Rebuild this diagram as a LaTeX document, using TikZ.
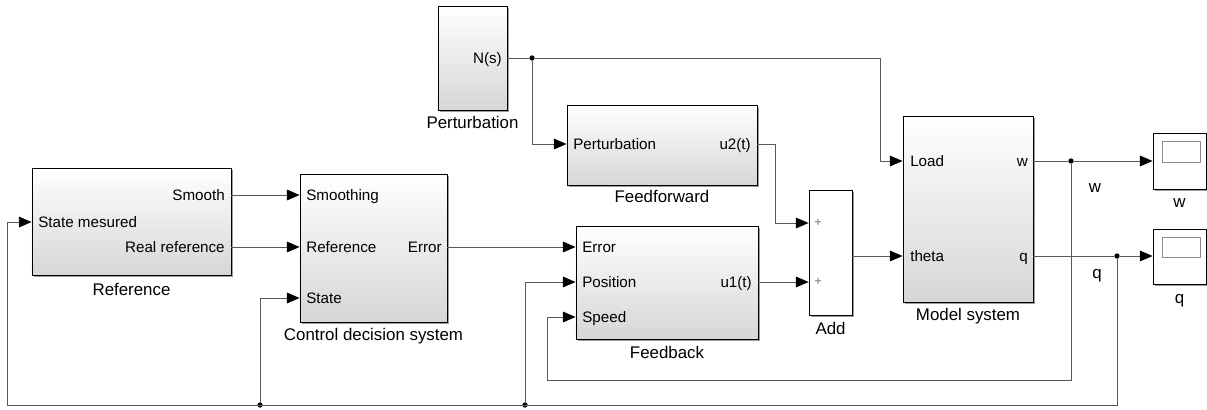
\documentclass[tikz,border=0pt]{standalone}
\usepackage{fontspec}
\setmainfont{Liberation Sans}
\usepackage{tikz}
\usetikzlibrary{arrows.meta,shadows}

\begin{document}
\begin{tikzpicture}[x=0.025cm,y=-0.025cm]
\tikzstyle{block} = [draw=black, line width=0.6pt, top color=white, bottom color=black!16, inner sep=0pt,
  drop shadow={shadow xshift=1.3pt, shadow yshift=-1.3pt, fill=black!55, opacity=.7}]
\tikzstyle{plain} = [draw=black, line width=0.6pt, fill=white, inner sep=0pt,
  drop shadow={shadow xshift=1.3pt, shadow yshift=-1.3pt, fill=black!55, opacity=.7}]
\tikzstyle{screen} = [draw=black!45, line width=0.6pt, fill=white, inner sep=0pt]
\tikzstyle{port} = [font=\fontsize{10.8}{12}\selectfont, inner sep=0pt, text height=7.8pt, text depth=0pt]
\tikzstyle{blkname} = [font=\fontsize{12}{14}\selectfont, inner sep=0pt]
\tikzstyle{plus} = [font=\fontsize{9}{10}\selectfont, text=black!55, inner sep=0pt]
\tikzstyle{wire} = [draw=black!65, line width=0.6pt]
\tikzstyle{sig} = [wire, -{Triangle[length=9pt, width=7.6pt, color=black]}]
\tikzstyle{dot} = [circle, fill=black, inner sep=0pt, minimum size=3.8pt]
\useasboundingbox (0,0) rectangle (1207,409);

% blocks
\node[block, minimum width=4.975cm, minimum height=2.675cm] (ref) at (131.5,221.5) {};
\node[block, minimum width=3.675cm, minimum height=3.7cm] (ctl) at (373.5,248) {};
\node[block, minimum width=1.725cm, minimum height=2.6cm] (pert) at (472.5,58) {};
\node[block, minimum width=4.75cm, minimum height=2cm] (ffw) at (662,145) {};
\node[block, minimum width=4.55cm, minimum height=2.825cm] (fbk) at (667,282.5) {};
\node[plain, minimum width=1.075cm, minimum height=3.125cm] (add) at (830.5,252.5) {};
\node[block, minimum width=3.25cm, minimum height=4.65cm] (mdl) at (968,209) {};
\node[plain, minimum width=1.325cm, minimum height=1.4cm] (scw) at (1179.5,161) {};
\node[plain, minimum width=1.325cm, minimum height=1.375cm] (scq) at (1179.5,256.5) {};
\node[screen, minimum width=0.95cm, minimum height=0.525cm] (scw-s) at (1181,151.5) {};
\node[screen, minimum width=0.95cm, minimum height=0.5cm] (scq-s) at (1181,247) {};

% ports
\node[port, anchor=east] (ref-o1) at (225,195) {Smooth};
\node[port, anchor=west] (ref-i1) at (38,222) {State mesured};
\node[port, anchor=east] (ref-o2) at (225,247) {Real reference};
\node[port, anchor=west] (ctl-i1) at (306,195) {Smoothing};
\node[port, anchor=west] (ctl-i2) at (306,247) {Reference};
\node[port, anchor=west] (ctl-i3) at (306,298) {State};
\node[port, anchor=east] (ctl-o1) at (442,247) {Error};
\node[port, anchor=east] (pert-o1) at (502,58) {N(s)};
\node[port, anchor=west] (ffw-i1) at (573,144) {Perturbation};
\node[port, anchor=east] (ffw-o1) at (751,144) {u2(t)};
\node[port, anchor=west] (fbk-i1) at (582,247) {Error};
\node[port, anchor=west] (fbk-i2) at (582,282) {Position};
\node[port, anchor=west] (fbk-i3) at (582,317) {Speed};
\node[port, anchor=east] (fbk-o1) at (752,282) {u1(t)};
\node[plus] (add-i1) at (818,223) {+};
\node[plus] (add-i2) at (818,282) {+};
\node[port, anchor=west] (mdl-i1) at (910,161) {Load};
\node[port, anchor=west] (mdl-i2) at (910,256) {theta};
\node[port, anchor=east] (mdl-o1) at (1028,161) {w};
\node[port, anchor=east] (mdl-o2) at (1028,256) {q};

% block names
\node[blkname, text height=8.6pt, text depth=0pt] (ref-n) at (131.5,289) {Reference};
\node[blkname, text height=8.6pt, text depth=0pt] (ctl-n) at (373.5,334.5) {Control decision system};
\node[blkname, text height=8.6pt, text depth=0pt] (pert-n) at (472.5,122) {Perturbation};
\node[blkname, text height=8.6pt, text depth=0pt] (ffw-n) at (662,196) {Feedforward};
\node[blkname, text height=8.6pt, text depth=0pt] (fbk-n) at (667,352) {Feedback};
\node[blkname, text height=8.6pt, text depth=0pt] (add-n) at (830.5,328) {Add};
\node[blkname, text height=8.6pt, text depth=0pt] (mdl-n) at (968,314) {Model system};
\node[blkname, anchor=base] (scw-n) at (1179.5,207) {w};
\node[blkname, anchor=base] (scq-n) at (1179.5,303) {q};
\node[blkname, anchor=base] (lbl-w) at (1095,192) {w};
\node[blkname, anchor=base] (lbl-q) at (1097,278) {q};

% branch points
\node[dot] (j-ns) at (532,58) {};
\node[dot] (j-w) at (1071,161) {};
\node[dot] (j-q) at (1117,256) {};
\node[dot] (j-pos) at (525,405) {};
\node[dot] (j-st) at (260,405) {};

% signals
\draw[sig] (ref.east |- ref-o1) -- (ctl.west |- ctl-i1);
\draw[sig] (ref.east |- ref-o2) -- (ctl.west |- ctl-i2);
\draw[sig] (ctl.east |- ctl-o1) -- (fbk.west |- fbk-i1);
\draw[wire] (pert.east |- pert-o1) -- (j-ns);
\draw[sig] (j-ns) -- (880,58) |- (mdl.west |- mdl-i1);
\draw[sig] (j-ns) |- (ffw.west |- ffw-i1);
\draw[sig] (ffw.east |- ffw-o1) -| (775,223) -- (add.west |- add-i1);
\draw[sig] (fbk.east |- fbk-o1) -- (add.west |- add-i2);
\draw[sig] (add.east |- mdl-i2) -- (mdl.west |- mdl-i2);
\draw[wire] (mdl.east |- mdl-o1) -- (j-w);
\draw[sig] (j-w) -- (scw.west |- j-w);
\draw[sig] (j-w) |- (547,380) |- (fbk.west |- fbk-i3);
\draw[wire] (mdl.east |- mdl-o2) -- (j-q);
\draw[sig] (j-q) -- (scq.west |- j-q);
\draw[sig] (j-q) |- (7,405) |- (ref.west |- ref-i1);
\draw[sig] (j-pos) |- (fbk.west |- fbk-i2);
\draw[sig] (j-st) |- (ctl.west |- ctl-i3);
\end{tikzpicture}
\end{document}
